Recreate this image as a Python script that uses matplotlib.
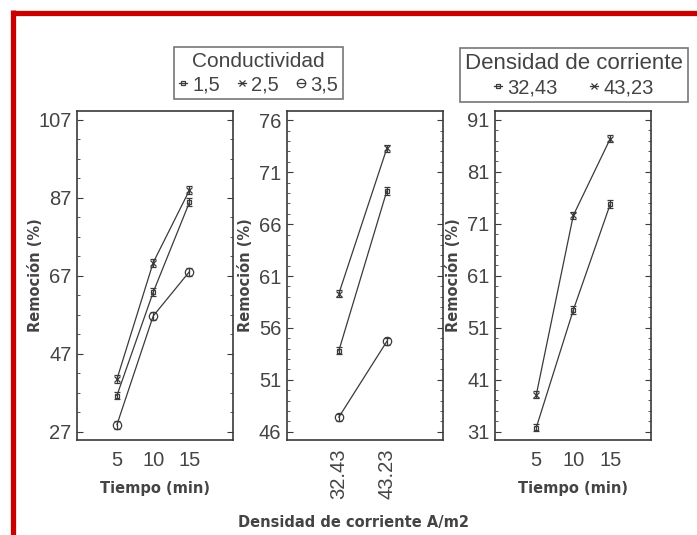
import matplotlib
matplotlib.use('Agg')
from matplotlib import pyplot as plt
from matplotlib.lines import Line2D
from matplotlib.ticker import MultipleLocator

# data
tiempo = [5, 10, 15]
cond_labels = ['1,5', '2,5', '3,5']
rem_t_c15 = [36.3, 62.8, 85.9]
rem_t_c25 = [40.5, 70.4, 89.0]
rem_t_c35 = [28.8, 56.7, 68.1]
err_t = [1.0, 1.0, 1.0]

densidad_labels = ['32.43', '43.23']
rem_d_c15 = [53.8, 69.2]
rem_d_c25 = [59.3, 73.3]
rem_d_c35 = [47.4, 54.7]
err_d = [0.35, 0.35]

dens_labels = ['32,43', '43,23']
rem_t_d1 = [31.8, 54.4, 74.8]
rem_t_d2 = [38.1, 72.6, 87.4]
err_td = [0.7, 0.7, 0.7]

W, H = 697, 535
fig = plt.figure(figsize=(W / 100, H / 100), dpi=100)
fig.patch.set_facecolor('white')

ink = '#3a3a3a'
txt = '#444444'
sans = ['Liberation Sans', 'DejaVu Sans']
lab_font = dict(family='DejaVu Sans', weight='bold', size=10.5)

styles = [dict(marker='s', ms=3.5, mfc='none'),
          dict(marker='x', ms=4),
          dict(marker='o', ms=6, mfc='none')]


def box(px_left):
    return [px_left / W, (H - 440) / H, 156 / W, 329 / H]


def setup(ax, ylim, major, minor, first):
    ax.set_ylim(*ylim)
    ax.yaxis.set_major_locator(MultipleLocator(major, offset=first % major))
    ax.yaxis.set_minor_locator(MultipleLocator(minor, offset=first % minor))
    ax.tick_params(axis='y', which='both', direction='in', left=True, right=True,
                   color=ink, labelcolor=txt)
    ax.tick_params(axis='y', which='major', length=4, pad=4)
    ax.tick_params(axis='y', which='minor', length=2.5)
    ax.tick_params(axis='x', length=0, pad=8, labelcolor=txt)
    for lab in ax.get_yticklabels() + ax.get_xticklabels():
        lab.set_fontfamily(sans)
        lab.set_fontsize(14.5)
    for s in ax.spines.values():
        s.set_color(ink)
        s.set_linewidth(1.2)
    ax.set_ylabel('Remoción (%)', color=txt, **lab_font)
    ax.yaxis.set_label_coords(-0.215, 0.5)


def series(ax, x, y, err, st):
    return ax.errorbar(x, y, yerr=err, color=ink, lw=0.9, capsize=2.5,
                       elinewidth=0.9, mec=ink, mew=0.9, **st)


# panel 1: tiempo x conductividad
ax1 = fig.add_axes(box(77))
h1 = []
for y, st in zip([rem_t_c15, rem_t_c25, rem_t_c35], styles):
    h1.append(series(ax1, tiempo, y, err_t, st))
ax1.set_xlim(-0.5, 21)
ax1.set_xticks(tiempo)
setup(ax1, (24.9, 109.3), 20, 5, 27)
ax1.set_xlabel('Tiempo (min)', color=txt, labelpad=8, **lab_font)

# panel 2: densidad x conductividad
ax2 = fig.add_axes(box(287))
xd = list(range(len(densidad_labels)))
for y, st in zip([rem_d_c15, rem_d_c25, rem_d_c35], styles):
    series(ax2, xd, y, err_d, st)
ax2.set_xlim(-1.08, 2.17)
ax2.set_xticks(xd)
ax2.set_xticklabels(densidad_labels, rotation=90)
setup(ax2, (45.2, 76.9), 5, 1, 46)
ax2.tick_params(axis='x', pad=6)

# panel 3: tiempo x densidad
ax3 = fig.add_axes(box(495))
h3 = []
for y, st in zip([rem_t_d1, rem_t_d2], styles[:2]):
    h3.append(series(ax3, tiempo, y, err_td, st))
ax3.set_xlim(-0.58, 20.5)
ax3.set_xticks(tiempo)
setup(ax3, (29.4, 92.7), 10, 2, 31)
ax3.set_xlabel('Tiempo (min)', color=txt, labelpad=8, **lab_font)

fig.text(353 / W, 1 - 522 / H, 'Densidad de corriente A/m2', ha='center', va='center',
         color=txt, **lab_font)

leg_kw = dict(loc='upper left', frameon=True, fancybox=False, edgecolor='#555555',
              handlelength=0.4, handletextpad=0.25, borderpad=0.25, labelspacing=0.2,
              prop=dict(family=sans, size=14.5), labelcolor=txt, borderaxespad=0)

lg1 = fig.legend([h[0] for h in h1], cond_labels, ncol=3, columnspacing=0.9,
                 title='Conductividad', title_fontproperties=dict(family=sans, size=15),
                 bbox_to_anchor=(174 / W, 1 - 47 / H), **leg_kw)
lg1.get_title().set_color(txt)
lg1.get_frame().set_linewidth(1.2)

lg3 = fig.legend([h[0] for h in h3], dens_labels, ncol=2, columnspacing=1.6,
                 title='Densidad de corriente', title_fontproperties=dict(family=sans, size=16),
                 bbox_to_anchor=(460 / W, 1 - 48 / H), **leg_kw)
lg3.get_title().set_color(txt)
lg3.get_frame().set_linewidth(1.2)

# red frame
red = '#c80000'
fig.add_artist(Line2D([12.5 / W, 1], [1 - 12.5 / H, 1 - 12.5 / H], color=red, lw=3.8,
                      solid_capstyle='butt', transform=fig.transFigure))
fig.add_artist(Line2D([12.5 / W, 12.5 / W], [0, 1 - 10 / H], color=red, lw=3.8,
                      solid_capstyle='butt', transform=fig.transFigure))

fig.savefig('out.png', dpi=100)
